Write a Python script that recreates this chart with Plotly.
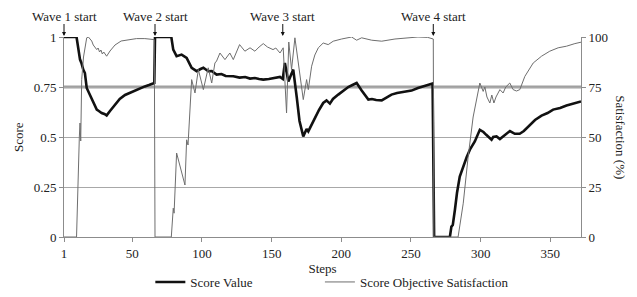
import plotly.graph_objects as go

score_steps = [1, 10, 12.5, 13.5, 14.8, 16, 17.3, 19, 20.9, 22, 24.5, 26, 28, 30, 31.6, 34, 37.6, 41, 44.8, 48, 52, 55, 59, 62, 65.8,
               66.3, 78, 79.4, 81.8, 85.4, 89, 92.6, 96.2, 99, 101, 104.5, 107, 110.5, 114, 117, 122.5, 127, 131, 134.5, 138, 141,
               144, 148, 153.6, 156, 158, 159.5, 162, 165.5, 168, 170, 172.7, 175.1, 176.3, 181, 184, 187, 189.4, 191.8, 194,
               197.8, 201, 205, 208, 211, 214.6, 217, 219.4, 222, 225, 229, 232, 236, 240, 245.6, 250.4, 255, 260, 265.5,
               266.6, 277.9, 279, 280, 281.5, 283, 285, 287, 290, 292.5, 295.8, 299.4, 302, 304, 306, 307.8, 309, 311.4, 313.8,
               317, 321, 324.5, 328, 331, 335.3, 339, 343.7, 348, 352, 357, 361.6, 366, 372]
score_vals = [1, 1, 0.887, 0.87, 0.837, 0.82, 0.745, 0.72, 0.695, 0.68, 0.637, 0.63, 0.62, 0.615, 0.608, 0.63, 0.662, 0.69, 0.71,
              0.72, 0.733, 0.74, 0.753, 0.76, 0.77,
              1, 1, 0.937, 0.904, 0.912, 0.896, 0.846, 0.829, 0.84, 0.846, 0.829, 0.83, 0.812, 0.815, 0.805, 0.804, 0.797, 0.8,
              0.792, 0.795, 0.79, 0.787, 0.79, 0.798, 0.8, 0.79, 0.87, 0.778, 0.837, 0.7, 0.58, 0.503, 0.54, 0.528, 0.595,
              0.635, 0.67, 0.683, 0.667, 0.69, 0.712, 0.73, 0.75, 0.76, 0.77, 0.733, 0.71, 0.687, 0.69, 0.685, 0.683, 0.695,
              0.712, 0.72, 0.728, 0.732, 0.745, 0.755, 0.767,
              0, 0, 0.052, 0.06, 0.135, 0.22, 0.302, 0.345, 0.40, 0.44, 0.478, 0.536, 0.525, 0.511, 0.5, 0.486, 0.5, 0.503,
              0.49, 0.51, 0.53, 0.516, 0.516, 0.53, 0.561, 0.585, 0.607, 0.62, 0.637, 0.645, 0.657, 0.667, 0.678]

sat_steps = [1, 10, 12, 12.5, 13, 13.7, 15, 17.3, 18.5, 20.9, 22, 24.5, 25.5, 26.5, 27.5, 28.5, 29.5, 31.6, 34, 37.6, 42, 47,
             53, 59, 63, 65.8, 66.3, 78, 79.4, 80, 81.8, 87.8, 89, 90, 92.6, 95, 97.4, 101, 104.5, 107, 109.3, 110.5, 112.9,
             116.5, 120, 122.5, 127, 130.8, 134.5, 138, 141, 144, 147, 151, 153, 156, 158.3, 160.7, 162.3, 164.3, 166.7,
             169.1, 172.7, 175.1, 176.3, 178.7, 181, 183.5, 187, 190.6, 194.2, 200.2, 207.4, 211, 214.6, 221.8, 229, 238.5,
             245.7, 255, 262, 266, 266.4, 283.8, 287.5, 291, 294.6, 299.4, 301.8, 303, 304.5, 306.6, 308, 309.5, 311, 313.8,
             316.1, 318, 320.9, 323.3, 325.7, 328.1, 331.7, 337.7, 343.7, 349.6, 355.6, 361.6, 367.6, 372]
sat_vals = [0, 0, 50, 57, 48, 78.7, 90, 99.6, 100, 98, 96, 93.7, 94.5, 92.5, 93.5, 91.5, 92.5, 90.4, 93, 96, 98, 98.7,
            99.2, 99.2, 99, 98.7, 0, 0, 14.4, 11.9, 42, 26, 48.6, 46, 78.7, 72, 83.7, 73.7, 84.6, 77, 87, 88, 92,
            88.7, 92, 88.7, 96.2, 92.9, 94.6, 92.9, 95, 96.7, 95, 93.7, 94.5, 92, 94.6, 62, 97.5, 83.7, 99.6,
            87, 68.7, 78.7, 73.7, 85.4, 91, 94.6, 97, 96.2, 97.9, 99, 100, 98.4, 99.6, 98.4, 97.9, 99,
            99.6, 100, 99.8, 99, 0, 0, 16.9, 40, 60, 77, 72.8, 75, 70, 67, 71, 67, 70, 73.7,
            72, 75, 77, 73.7, 73, 73.7, 80.3, 87, 90.4, 92.9, 94.6, 95.4, 96.7, 97.4]

wave_steps = [1, 66.3, 158, 266]
wave_labels = ["Wave 1 start", "Wave 2 start", "Wave 3 start", "Wave 4 start"]

x_ticks = [1, 50, 100, 150, 200, 250, 300, 350]
y_ticks = [0, 0.25, 0.5, 0.75, 1]
y_tick_text = ["0", "0.25", "0.5", "0.75", "1"]
y2_ticks = [0, 25, 50, 75, 100]

FONT = "'Liberation Serif', 'Times New Roman', serif"
GRID = "#a8a8a8"
AX = "#8c8c8c"
TXT = "#222222"

fig = go.Figure()
fig.add_trace(go.Scatter(x=sat_steps, y=sat_vals, mode="lines", name="Score Objective Satisfaction",
                         line=dict(color="#6e6e6e", width=1), yaxis="y2", legend="legend2"))
fig.add_trace(go.Scatter(x=score_steps, y=score_vals, mode="lines", name="Score Value",
                         line=dict(color="#111111", width=2.6), legend="legend"))

fig.add_shape(type="line", xref="paper", yref="y", x0=0, x1=1, y0=0.75, y1=0.75,
              line=dict(color="#a0a0a0", width=3), layer="below")

for s, lab in zip(wave_steps, wave_labels):
    fig.add_annotation(x=s, y=1, xref="x", yref="y", text=lab, showarrow=True,
                       arrowhead=2, arrowsize=0.8, arrowwidth=1, arrowcolor="#111",
                       ax=0, ay=-21, standoff=1, borderpad=0,
                       font=dict(family=FONT, size=13, color=TXT))

fig.add_annotation(x=-0.089, y=0.5, xref="paper", yref="paper", text="Score", textangle=-90,
                   xanchor="center", yanchor="middle",
                   showarrow=False, font=dict(family=FONT, size=13, color=TXT))
fig.add_annotation(x=1.077, y=0.5, xref="paper", yref="paper", text="Satisfaction (%)", textangle=90,
                   xanchor="center", yanchor="middle",
                   showarrow=False, font=dict(family=FONT, size=13, color=TXT))

leg_common = dict(orientation="h", xanchor="left", y=-0.3, yanchor="bottom",
                  font=dict(family=FONT, size=13, color=TXT), bgcolor="rgba(0,0,0,0)")

fig.update_layout(
    width=629, height=289,
    margin=dict(l=56, r=56, t=29, b=60, autoexpand=False),
    paper_bgcolor="white", plot_bgcolor="white",
    font=dict(family=FONT, size=13, color=TXT),
    xaxis=dict(range=[1, 372], tickvals=x_ticks, showgrid=False, showline=True, linecolor=AX,
               ticks="outside", ticklen=4, tickcolor=AX, zeroline=False,
               title=dict(text="Steps", standoff=4, font=dict(family=FONT, size=13, color=TXT))),
    yaxis=dict(range=[0, 1], tickvals=y_ticks, ticktext=y_tick_text, showgrid=True, gridcolor=GRID,
               gridwidth=1, showline=True, linecolor=AX, ticks="outside", ticklen=4, tickcolor=AX,
               zeroline=False),
    yaxis2=dict(range=[0, 100], tickvals=y2_ticks, overlaying="y", side="right", showgrid=False,
                showline=True, linecolor=AX, ticks="outside", ticklen=4, tickcolor=AX, zeroline=False),
    legend=dict(x=0.167, **leg_common),
    legend2=dict(x=0.495, **leg_common),
    showlegend=True,
)

fig.write_html("out.html")
